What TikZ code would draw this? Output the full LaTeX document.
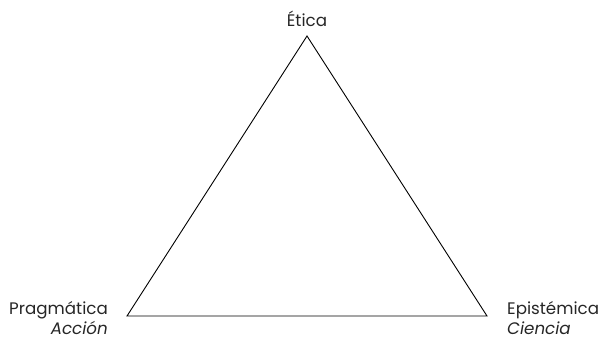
\documentclass[tikz,border=0pt]{standalone}
\usepackage{fontspec}
\setmainfont{Poppins}
\begin{document}
\begin{tikzpicture}[x=1pt,y=-1pt,
  lbl/.style={font=\fontsize{16.7}{20}\selectfont, text=black!85, inner sep=0pt},
  edge/.style={draw=black, line width=0.9pt, line join=miter}]
\useasboundingbox (0,0) rectangle (603,340);
\coordinate (top) at (307,36);
\coordinate (bl) at (127,316);
\coordinate (br) at (487,316);
\draw[edge] (top) -- (bl) -- (br) -- cycle;
\node[lbl, anchor=base] (etica) at (307,26) {Ética};
\node[lbl, anchor=base east] (prag) at (108,314) {Pragmática};
\node[lbl, anchor=base east] (accion) at (108,334) {\itshape Acción};
\node[lbl, anchor=base west] (epis) at (507,314) {Epistémica};
\node[lbl, anchor=base west] (ciencia) at (507,334) {\itshape Ciencia};
\end{tikzpicture}
\end{document}
